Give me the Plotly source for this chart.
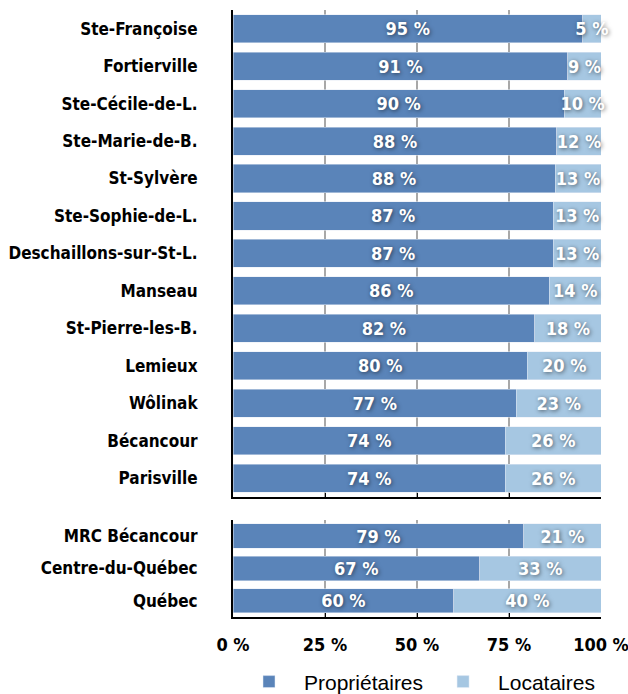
import plotly.graph_objects as go
from plotly.subplots import make_subplots

DARK = "#5a84b9"
LIGHT = "#a6c7e2"

municipalites = ["Ste-Françoise", "Fortierville", "Ste-Cécile-de-L.", "Ste-Marie-de-B.",
                 "St-Sylvère", "Ste-Sophie-de-L.", "Deschaillons-sur-St-L.", "Manseau",
                 "St-Pierre-les-B.", "Lemieux", "Wôlinak", "Bécancour", "Parisville"]
proprio_mun = [95, 91, 90, 88, 87.5, 87, 87, 86, 82, 80, 77, 74, 74]
locat_mun = [5, 9, 10, 12, 12.5, 13, 13, 14, 18, 20, 23, 26, 26]

regions = ["MRC Bécancour", "Centre-du-Québec", "Québec"]
proprio_reg = [79, 67, 60]
locat_reg = [21, 33, 40]

x_ticks = [0, 25, 50, 75, 100]
x_labels = ["0 %", "25 %", "50 %", "75 %", "100 %"]

FONT = "DejaVu Sans Condensed, Liberation Sans, Arial"


def lbl(vals):
    return [f"{int(v + 0.5)} %" for v in vals]


fig = make_subplots(rows=2, cols=1)

txt = dict(family=FONT, size=18, color="white", weight="bold",
           shadow="1px 1px 4px rgba(0,0,0,0.55)")

for row, cats, own, rent in [(1, municipalites, proprio_mun, locat_mun),
                             (2, regions, proprio_reg, locat_reg)]:
    fig.add_trace(go.Bar(y=cats, x=own, orientation="h", name="Propriétaires",
                         marker_color=DARK, text=lbl(own), textposition="inside",
                         insidetextanchor="middle", constraintext="none", textangle=0,
                         textfont=txt, showlegend=(row == 1), legendgroup="p",
                         cliponaxis=False), row=row, col=1)
    fig.add_trace(go.Bar(y=cats, x=rent, orientation="h", name="Locataires",
                         marker_color=LIGHT, text=lbl(rent), textposition="inside",
                         insidetextanchor="middle", constraintext="none", textangle=0,
                         textfont=txt, showlegend=(row == 1), legendgroup="l",
                         cliponaxis=False), row=row, col=1)

axis_common = dict(range=[0, 100], tickvals=x_ticks, showgrid=True,
                   gridcolor="#a8a8a8", gridwidth=2, showline=True,
                   linecolor="black", linewidth=2, ticks="inside",
                   tickcolor="black", ticklen=4, tickwidth=1, zeroline=False)
fig.update_xaxes(**axis_common, showticklabels=False, row=1, col=1)
fig.update_xaxes(**axis_common, ticktext=x_labels, showticklabels=True,
                 ticklabeloverflow="allow",
                 tickfont=dict(family=FONT, size=18, color="black", weight="bold"),
                 ticklabelstandoff=10, row=2, col=1)

fig.update_yaxes(autorange="reversed", showline=True, linecolor="black", linewidth=2,
                 ticks="", ticklabelstandoff=30,
                 tickfont=dict(family=FONT, size=17, color="black", weight="bold"))
fig.update_yaxes(domain=[0.198, 1.0], row=1, col=1)
fig.update_yaxes(domain=[0.0, 0.16], row=2, col=1)

fig.update_layout(
    width=628, height=694, barmode="stack", bargap=0.25,
    paper_bgcolor="white", plot_bgcolor="white",
    margin=dict(l=233, r=27, t=10, b=77, autoexpand=False),
    legend=dict(orientation="h", x=0.5, xanchor="center", y=-0.107, yanchor="middle",
                font=dict(family="Liberation Sans, Arial", size=21, color="black"),
                itemwidth=60, tracegroupgap=0),
)

# drop the default 8px page margin so the figure fills the window
fig.write_html("out.html", config={"displayModeBar": False},
               post_script="document.body.style.margin='0';")
